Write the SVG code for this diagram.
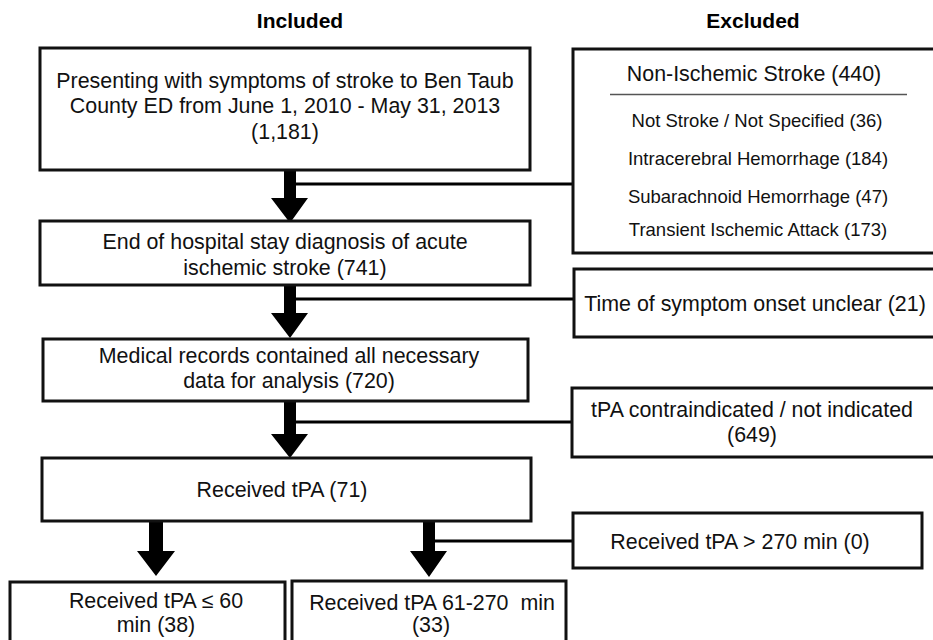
<svg xmlns="http://www.w3.org/2000/svg" width="933" height="640" viewBox="0 0 933 640">
<style>
.bx{fill:#fff;stroke:#111;stroke-width:3}
.t{font-family:"Liberation Sans",Arial,Helvetica,sans-serif;font-size:21.4px;fill:#111;text-anchor:middle}
.s{font-family:"Liberation Sans",Arial,Helvetica,sans-serif;font-size:18.5px;fill:#111;text-anchor:middle}
.h{font-family:"Liberation Sans",Arial,Helvetica,sans-serif;font-size:21px;font-weight:bold;fill:#000;text-anchor:middle}
.ln{stroke:#000;stroke-width:3;fill:none}
.ar{fill:#000}
</style>
<rect width="933" height="640" fill="#fff"/>
<g id="headers">
<text class="h" x="300" y="28">Included</text>
<text class="h" x="753" y="28">Excluded</text>
</g>
<g id="connectors">
<line class="ln" x1="296" y1="184" x2="574" y2="184"/>
<line class="ln" x1="296" y1="299" x2="575" y2="299"/>
<line class="ln" x1="296" y1="422" x2="573" y2="422"/>
<line class="ln" x1="435" y1="541" x2="574" y2="541"/>
<path class="ar" d="M284,170H296V198H308L290,223L271,198H284Z"/>
<path class="ar" d="M284,285H296V313H308L290,338L271,313H284Z"/>
<path class="ar" d="M284,401H296V434H308L290,458L271,434H284Z"/>
<path class="ar" d="M149,522H163V551H175L156,576L137,551H149Z"/>
<path class="ar" d="M423,522H435V551H447L429,577L410,551H423Z"/>
</g>
<g id="n1">
<rect class="bx" x="40" y="48" width="490" height="122"/>
<text class="t" x="285" y="88">Presenting with symptoms of stroke to Ben Taub</text>
<text class="t" x="285" y="113">County ED from June 1, 2010 - May 31, 2013</text>
<text class="t" x="285" y="139">(1,181)</text>
</g>
<g id="x1">
<rect class="bx" x="573" y="49" width="370" height="204"/>
<text class="t" x="754" y="81">Non-Ischemic Stroke (440)</text>
<line x1="610" y1="94.5" x2="907" y2="94.5" stroke="#555" stroke-width="1.5"/>
<text class="s" x="757" y="127">Not Stroke / Not Specified (36)</text>
<text class="s" x="758" y="165">Intracerebral Hemorrhage (184)</text>
<text class="s" x="758" y="203">Subarachnoid Hemorrhage (47)</text>
<text class="s" x="758" y="236">Transient Ischemic Attack (173)</text>
</g>
<g id="n2">
<rect class="bx" x="40" y="221" width="490" height="64"/>
<text class="t" x="285" y="249">End of hospital stay diagnosis of acute</text>
<text class="t" x="285" y="275">ischemic stroke (741)</text>
</g>
<g id="x2">
<rect class="bx" x="574" y="269" width="370" height="68"/>
<text class="t" x="755" y="311">Time of symptom onset unclear (21)</text>
</g>
<g id="n3">
<rect class="bx" x="43" y="339" width="485" height="62"/>
<text class="t" x="289" y="363">Medical records contained all necessary</text>
<text class="t" x="289" y="388">data for analysis (720)</text>
</g>
<g id="x3">
<rect class="bx" x="572" y="388" width="372" height="69"/>
<text class="t" x="752" y="417">tPA contraindicated / not indicated</text>
<text class="t" x="752" y="442">(649)</text>
</g>
<g id="n4">
<rect class="bx" x="42" y="458" width="489" height="63"/>
<text class="t" x="282" y="497">Received tPA (71)</text>
</g>
<g id="x4">
<rect class="bx" x="573" y="513" width="349" height="55"/>
<text class="t" x="740" y="549">Received tPA &gt; 270 min (0)</text>
</g>
<g id="n5">
<rect class="bx" x="10" y="582" width="275" height="70"/>
<text class="t" x="156" y="608">Received tPA ≤ 60</text>
<text class="t" x="156" y="632">min (38)</text>
</g>
<g id="n6">
<rect class="bx" x="292" y="581" width="274" height="70"/>
<text class="t" x="432" y="610" xml:space="preserve">Received tPA 61-270  min</text>
<text class="t" x="431" y="632">(33)</text>
</g>
</svg>
